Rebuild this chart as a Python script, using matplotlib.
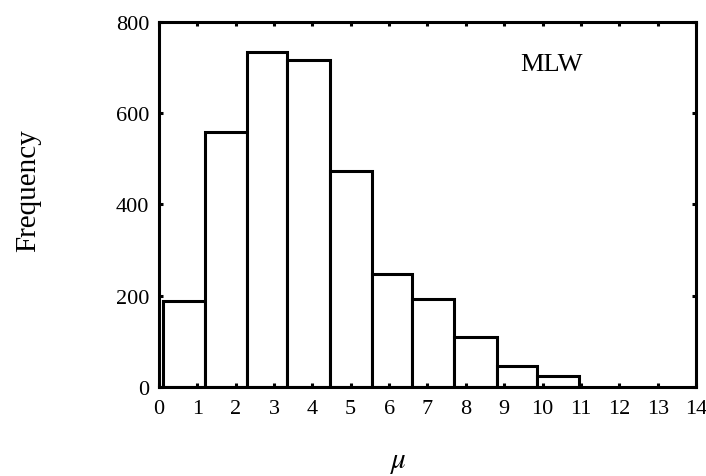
import numpy as np
import matplotlib.pyplot as plt

# histogram of mu (MLW), bin edges and counts
bin_edges = [0.1, 1.2, 2.3, 3.35, 4.45, 5.55, 6.6, 7.7, 8.8, 9.85, 10.95]
counts = [189, 558, 734, 717, 474, 248, 193, 109, 47, 25]
x_ticks = list(range(0, 15))
y_ticks = [0, 200, 400, 600, 800]

plt.rcParams['font.family'] = ['Liberation Serif', 'DejaVu Serif']
plt.rcParams['mathtext.fontset'] = 'stix'

fig = plt.figure(figsize=(7.06, 4.77), dpi=100)
ax = fig.add_axes([0.225, 0.1866, 0.761, 0.7652])

lefts = np.array(bin_edges[:-1])
widths = np.diff(bin_edges)
ax.bar(lefts, counts, width=widths, align='edge', facecolor='white',
       edgecolor='black', linewidth=2.2)

ax.set_xlim(0, 14)
ax.set_ylim(0, 800)
ax.set_xticks(x_ticks)
ax.set_yticks(y_ticks)
ax.tick_params(direction='in', length=3, width=2.2, top=True, right=True,
               labelsize=16)
ax.tick_params(axis='x', pad=9)
ax.tick_params(axis='y', pad=7)
for s in ax.spines.values():
    s.set_linewidth(2.2)

ax.set_ylabel('Frequency', fontsize=21, labelpad=54)
ax.yaxis.label.set_y(0.54)
ax.set_xlabel(r'$\mu$', fontsize=21, labelpad=22)
ax.xaxis.label.set_x(0.447)
ax.text(0.73, 0.885, 'MLW', transform=ax.transAxes, fontsize=19,
        ha='center', va='center')

fig.savefig('out.png', dpi=100)
